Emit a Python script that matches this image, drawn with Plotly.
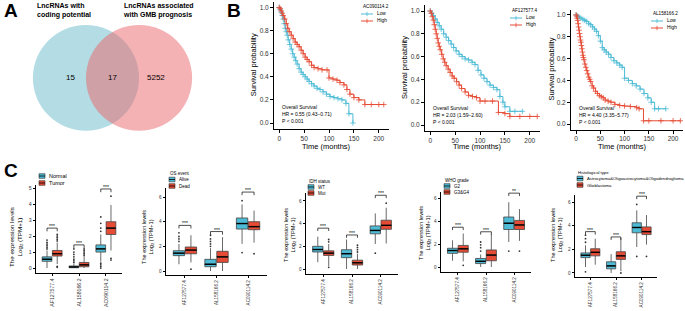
import plotly.graph_objects as go

W, H = 685, 311
FONT = "Liberation Sans, Arial, sans-serif"
BLUE = "#4DBBD5"
RED = "#E64B35"

# ---------------- Panel A: Venn ----------------
venn_titles = ["LncRNAs with<br>coding potential", "LncRNAs associated<br>with GMB prognosis"]
venn_counts = [15, 17, 5252]

# ---------------- Panel B: Kaplan-Meier ----------------
km_genes = ["AC090114.2", "AF127577.4", "AL158166.2"]
km_hr = ["HR = 0.55 (0.43\u22120.71)", "HR = 2.03 (1.59\u22122.60)", "HR = 4.40 (3.35\u22125.77)"]
km_p = ["P < 0.001", "P < 0.001", "P < 0.001"]

km1_low_t = [0, 2, 4, 6, 8, 10, 12, 14, 16, 18, 21, 24, 27, 30, 33, 36, 40, 44, 48, 52, 56, 60, 65, 70, 76, 82, 88, 95, 102, 110, 118, 126, 134, 140, 148]
km1_low_s = [1.0, 0.98, 0.96, 0.93, 0.90, 0.86, 0.82, 0.79, 0.76, 0.72, 0.68, 0.64, 0.60, 0.57, 0.54, 0.51, 0.47, 0.44, 0.42, 0.40, 0.38, 0.36, 0.34, 0.32, 0.30, 0.29, 0.27, 0.25, 0.23, 0.22, 0.21, 0.20, 0.17, 0.08, 0.0]
km1_high_t = [0, 2, 4, 6, 8, 11, 14, 17, 20, 24, 28, 32, 36, 40, 44, 48, 52, 56, 60, 65, 70, 78, 86, 96, 100, 108, 116, 122, 130, 136, 142, 150, 160, 172, 185, 200, 210]
km1_high_s = [1.0, 0.99, 0.97, 0.95, 0.93, 0.90, 0.86, 0.82, 0.79, 0.76, 0.73, 0.70, 0.68, 0.66, 0.63, 0.60, 0.57, 0.55, 0.53, 0.50, 0.48, 0.47, 0.46, 0.46, 0.39, 0.38, 0.37, 0.35, 0.33, 0.29, 0.25, 0.22, 0.20, 0.16, 0.16, 0.16, 0.16]

km2_low_t = [0, 3, 6, 10, 14, 18, 22, 27, 32, 37, 42, 47, 52, 58, 64, 70, 77, 84, 90, 96, 102, 108, 114, 120, 127, 134, 140, 146, 150, 160, 170, 185]
km2_low_s = [1.0, 0.98, 0.96, 0.93, 0.90, 0.87, 0.84, 0.80, 0.77, 0.74, 0.71, 0.68, 0.65, 0.62, 0.60, 0.58, 0.57, 0.55, 0.53, 0.48, 0.44, 0.41, 0.38, 0.35, 0.33, 0.31, 0.25, 0.20, 0.16, 0.12, 0.12, 0.12]
km2_high_t = [0, 2, 4, 6, 8, 10, 12, 14, 16, 18, 20, 23, 26, 29, 32, 36, 40, 44, 48, 53, 58, 63, 70, 77, 85, 93, 100, 110, 125, 137, 150, 160, 180, 200, 215]
km2_high_s = [1.0, 0.98, 0.95, 0.92, 0.88, 0.84, 0.80, 0.76, 0.72, 0.69, 0.66, 0.62, 0.58, 0.55, 0.52, 0.49, 0.46, 0.43, 0.41, 0.38, 0.35, 0.32, 0.29, 0.26, 0.25, 0.24, 0.21, 0.21, 0.21, 0.11, 0.10, 0.075, 0.075, 0.075, 0.075]

km3_low_t = [0, 3, 6, 10, 14, 18, 22, 26, 30, 34, 38, 42, 46, 50, 54, 58, 62, 67, 72, 78, 84, 90, 95, 100, 108, 116, 124, 132, 140, 148, 155, 162, 170, 185]
km3_low_s = [1.0, 0.99, 0.98, 0.97, 0.96, 0.95, 0.94, 0.92, 0.91, 0.89, 0.87, 0.85, 0.81, 0.76, 0.70, 0.68, 0.66, 0.64, 0.61, 0.58, 0.56, 0.54, 0.52, 0.42, 0.40, 0.37, 0.35, 0.32, 0.28, 0.24, 0.20, 0.14, 0.14, 0.14]
km3_high_t = [0, 1, 2, 3, 4, 5, 6, 7, 8, 9, 10, 11, 12, 13, 14, 15, 16, 18, 20, 22, 24, 26, 28, 30, 33, 36, 40, 44, 48, 52, 56, 60, 66, 72, 80, 90, 100, 112, 125, 130, 139, 150, 175, 200, 215]
km3_high_s = [1.0, 0.99, 0.97, 0.95, 0.92, 0.89, 0.86, 0.83, 0.80, 0.77, 0.75, 0.72, 0.69, 0.66, 0.63, 0.61, 0.59, 0.55, 0.52, 0.49, 0.46, 0.43, 0.41, 0.39, 0.35, 0.33, 0.30, 0.28, 0.26, 0.25, 0.24, 0.22, 0.21, 0.20, 0.18, 0.17, 0.165, 0.16, 0.15, 0.14, 0.03, 0.03, 0.03, 0.03, 0.03]

# ---------------- Panel C: boxplots ----------------
genes = ["AF127577.4", "AL158166.2", "AC090114.2"]
# stats per gene: (lower whisker, q1, median, q3, upper whisker)
c1_groups = ["Normal", "Tumor"]
c1_a = [(0.00, 0.42, 0.55, 0.70, 1.10), (0.00, 0.02, 0.07, 0.13, 0.28), (0.40, 1.00, 1.20, 1.45, 2.10)]
c1_b = [(0.25, 0.75, 0.90, 1.10, 1.60), (0.00, 0.08, 0.20, 0.35, 0.75), (1.10, 2.10, 2.50, 2.90, 3.95)]
c1_a_out = [[1.2, 1.3, 1.4, 1.5, 1.6, 1.75], [0.35, 0.45, 0.55, 0.7, 0.85, 1.0, 1.2], [0.0, 0.1, 0.2, 0.3, 2.3, 2.5, 2.8, 3.2]]
c1_b_out = [[0.05, 0.1, 1.7, 1.8, 1.9, 2.0, 2.1], [0.8, 0.9, 1.0, 1.1, 1.2], [0.5, 0.6, 4.5]]
c1_sig = ["***", "***", "***"]

c2_title = "OS event"
c2_groups = ["Alive", "Dead"]
c2_a = [(0.55, 1.25, 1.45, 1.65, 2.20), (0.00, 0.35, 0.55, 0.95, 1.85), (2.20, 3.40, 3.85, 4.30, 5.40)]
c2_b = [(0.70, 1.40, 1.70, 1.95, 2.90), (0.00, 0.70, 1.15, 1.60, 2.75), (2.30, 3.35, 3.60, 4.00, 4.90)]
c2_a_out = [[2.4, 2.6, 2.8, 3.1], [2.0, 2.2, 2.4, 2.6, 2.9], [1.5, 5.7]]
c2_b_out = [[0.15], [], [1.4]]
c2_sig = ["***", "***", "***"]

c3_title = "IDH status"
c3_groups = ["WT", "Mut"]
c3_a = [(0.60, 1.50, 1.72, 2.00, 2.85), (0.00, 1.00, 1.35, 1.70, 2.60), (2.20, 3.10, 3.40, 3.80, 4.90)]
c3_b = [(0.25, 1.20, 1.40, 1.60, 2.20), (0.00, 0.35, 0.55, 0.78, 1.35), (2.25, 3.50, 3.85, 4.30, 5.40)]
c3_a_out = [[], [], [1.4]]
c3_b_out = [[0.15, 2.4, 2.6], [1.5, 1.7, 1.9, 2.1], [5.8]]
c3_sig = ["***", "***", "***"]

c4_title = "WHO grade"
c4_groups = ["G2", "G3&G4"]
c4_a = [(0.55, 1.20, 1.45, 1.65, 2.35), (0.00, 0.30, 0.50, 0.75, 1.10), (2.20, 3.30, 3.85, 4.40, 5.70)]
c4_b = [(0.50, 1.30, 1.60, 1.90, 2.95), (0.00, 0.55, 1.05, 1.50, 2.90), (2.30, 3.30, 3.70, 4.10, 5.10)]
c4_a_out = [[], [1.4, 1.7, 1.95, 2.2], [1.4]]
c4_b_out = [[0.15], [], [1.4]]
c4_sig = ["***", "***", "**"]

c5_title = "Histological type"
c5_groups = ["Astrocytoma&Oligoastrocytoma&Oligodendroglioma", "Glioblastoma"]
c5_a = [(0.50, 1.30, 1.50, 1.70, 2.35), (0.00, 0.35, 0.60, 0.95, 1.60), (2.20, 3.40, 3.85, 4.25, 5.30)]
c5_b = [(0.70, 1.45, 1.75, 2.05, 2.90), (0.15, 1.15, 1.45, 1.80, 2.95), (2.40, 3.25, 3.50, 3.90, 4.90)]
c5_a_out = [[0.1, 2.6, 2.9, 3.2], [], [1.4, 5.8]]
c5_b_out = [[], [0.0], [1.4]]
c5_sig = ["***", "***", "***"]


def px(x):
    return x / W


def py(y):
    return 1 - y / H


fig = go.Figure()
annotations = []
shapes = []
layout = dict(width=W, height=H, margin=dict(l=0, r=0, t=0, b=0),
              plot_bgcolor="white", paper_bgcolor="white", showlegend=False,
              font=dict(family=FONT, color="black"))


def ann(text, x, y, size, xanchor="left", yanchor="middle", color="black", bold=False, angle=0, xref="paper", yref="paper", align="left"):
    annotations.append(dict(text=("<b>%s</b>" % text) if bold else text, x=x, y=y, xref=xref, yref=yref,
                            xanchor=xanchor, yanchor=yanchor, showarrow=False, textangle=angle, align=align,
                            font=dict(size=size, color=color, family=FONT)))


# ---- Panel letters
ann("A", px(2), py(10), 19, bold=True)
ann("B", px(225), py(10), 19, bold=True)
ann("C", px(2), py(170), 19, bold=True)

# ---- Venn (axis x/y)
layout["xaxis"] = dict(domain=[0, px(225)], range=[-2.12, 2.12], visible=False)
layout["yaxis"] = dict(domain=[0, 1], range=[-4.40, 1.47], visible=False)
fig.add_trace(go.Scatter(x=[0], y=[0], mode="markers", marker=dict(opacity=0), xaxis="x", yaxis="y", hoverinfo="skip"))
venn_cx = [-0.5, 0.5]
venn_fill = ["rgba(105,185,201,0.5)", "rgba(233,101,105,0.5)"]
for cx, fc in zip(venn_cx, venn_fill):
    shapes.append(dict(type="circle", xref="x", yref="y", x0=cx - 1, x1=cx + 1, y0=-1, y1=1,
                       fillcolor=fc, line=dict(width=0)))
for xpos, cnt in zip([-0.80, 0.0, 0.82], venn_counts):
    ann(str(cnt), xpos, 0, 8, xanchor="center", xref="x", yref="y")
ann(venn_titles[0], px(35), py(11), 7, bold=True)
ann(venn_titles[1], px(121), py(11), 7, bold=True)

# ---- KM panels
km_data = [(km1_low_t, km1_low_s, km1_high_t, km1_high_s),
           (km2_low_t, km2_low_s, km2_high_t, km2_high_s),
           (km3_low_t, km3_low_s, km3_high_t, km3_high_s)]
km_dom = [(274, 389, 1.7, 128.8), (425, 540, 5.3, 130.7), (571, 683, 9.5, 129.5)]
km_ytitle_x = [253, 404, 551]
km_leg = [(361, 7), (510, 11), (651, 14)]
km_txt_y = [107, 108, 108]
for i in range(3):
    n = i + 2
    x0, x1, y0, y1 = km_dom[i]
    common = dict(showline=True, linecolor="black", linewidth=1, ticks="outside", ticklen=3, tickwidth=1,
                  tickcolor="black", showgrid=False, zeroline=False, tickfont=dict(size=6.5, color="#333", family=FONT))
    layout["xaxis%d" % n] = dict(domain=[px(x0), px(x1)], range=[-10.5, 220.5], anchor="y%d" % n,
                                 tickvals=[0, 50, 100, 150, 200], **common)
    layout["yaxis%d" % n] = dict(domain=[py(y1), py(y0)], range=[-0.05, 1.05], anchor="x%d" % n,
                                 tickvals=[0, 0.2, 0.4, 0.6, 0.8, 1.0], tickformat=".1f", **common)
    lt, ls, ht, hs = km_data[i]
    for t, s, c in [(lt, ls, BLUE), (ht, hs, RED)]:
        fig.add_trace(go.Scatter(x=t, y=s, mode="lines+markers", line=dict(shape="hv", color=c, width=1),
                                 marker=dict(symbol="cross-thin", size=4, line=dict(width=0.8, color=c)),
                                 xaxis="x%d" % n, yaxis="y%d" % n, hoverinfo="skip"))
    # titles
    ann("Survival probability", px(km_ytitle_x[i]), py((y0 + y1) / 2), 7.5, xanchor="center", angle=-90)
    ann("Time (months)", px((x0 + x1) / 2 - 5), py(146), 7.5, xanchor="center")
    # stats text
    ty = km_txt_y[i]
    ann("Overall Survival", px(x0 + 6), py(ty), 5)
    ann(km_hr[i], px(x0 + 6), py(ty + 7), 5)
    ann(km_p[i], px(x0 + 6), py(ty + 14), 5)
    # legend
    lx, ly = km_leg[i]
    ann(km_genes[i], px(lx), py(ly), 4.6)
    for j, (lab, c) in enumerate([("Low", BLUE), ("High", RED)]):
        yy = ly + 7 * (j + 1)
        shapes.append(dict(type="line", xref="paper", yref="paper", x0=px(lx), x1=px(lx + 12), y0=py(yy), y1=py(yy),
                           line=dict(color=c, width=1)))
        shapes.append(dict(type="line", xref="paper", yref="paper", x0=px(lx + 6), x1=px(lx + 6), y0=py(yy - 2.2), y1=py(yy + 2.2),
                           line=dict(color=c, width=0.8)))
        ann(lab, px(lx + 14), py(yy), 4.8)

# ---- Box panels
panels = [
    dict(groups=c1_groups, title=None, a=c1_a, b=c1_b, ao=c1_a_out, bo=c1_b_out, sig=c1_sig,
         dom=(36, 122, 185, 273), yr=[-0.31, 5.2], ticks=[0, 1, 2, 3, 4, 5], br=[2.5, 1.45, 4.95], d=0.2,
         tf=5.2, yt=(16, 237, 6.2), leg=(39, 176, 7, 5.5)),
    dict(groups=c2_groups, title=c2_title, a=c2_a, b=c2_b, ao=c2_a_out, bo=c2_b_out, sig=c2_sig,
         dom=(166, 267, 188, 275), yr=[-0.32, 6.73], ticks=[0, 2, 4, 6], br=[3.7, 3.2, 6.4], d=0.25,
         tf=4.6, yt=(148, 237, 5.6), leg=(169, 173, 6.5, 4.5)),
    dict(groups=c3_groups, title=c3_title, a=c3_a, b=c3_b, ao=c3_a_out, bo=c3_b_out, sig=c3_sig,
         dom=(306, 398, 193, 274), yr=[-0.44, 6.7], ticks=[0, 2, 4, 6], br=[3.6, 3.0, 6.5], d=0.25,
         tf=4.6, yt=(290, 235, 5.6), leg=(308, 181, 6, 4.5)),
    dict(groups=c4_groups, title=c4_title, a=c4_a, b=c4_b, ao=c4_a_out, bo=c4_b_out, sig=c4_sig,
         dom=(441, 531, 192, 272), yr=[-0.44, 6.6], ticks=[0, 2, 4, 6], br=[3.5, 3.1, 6.5], d=0.25,
         tf=4.6, yt=(425, 233, 5.6), leg=(444, 180, 6, 4.5)),
    dict(groups=c5_groups, title=c5_title, a=c5_a, b=c5_b, ao=c5_a_out, bo=c5_b_out, sig=c5_sig,
         dom=(575, 657, 195, 277), yr=[-0.34, 6.6], ticks=[0, 2, 4, 6], br=[3.5, 3.05, 6.5], d=0.25,
         tf=4.6, yt=(557, 235, 5.6), leg=(577, 172, 6.5, 4.2)),
]
BW = 0.36
OFF = [-0.19, 0.19]
for k, p in enumerate(panels):
    n = k + 5
    xa, ya = "x%d" % n, "y%d" % n
    x0, x1, y0, y1 = p["dom"]
    common = dict(showline=True, linecolor="black", linewidth=0.8, ticks="outside", ticklen=2.5, tickwidth=0.8,
                  tickcolor="black", showgrid=False, zeroline=False,
                  tickfont=dict(size=p["tf"], color="#333", family=FONT))
    layout["xaxis%d" % n] = dict(domain=[px(x0), px(x1)], range=[-0.6, 2.6], anchor=ya,
                                 tickvals=[0, 1, 2], ticktext=genes, tickangle=-90, **common)
    layout["yaxis%d" % n] = dict(domain=[py(y1), py(y0)], range=p["yr"], anchor=xa,
                                 tickvals=p["ticks"], **common)
    for gi, (stats, outs, col) in enumerate([(p["a"], p["ao"], BLUE), (p["b"], p["bo"], RED)]):
        pos = [g + OFF[gi] for g in range(3)]
        fig.add_trace(go.Box(x=pos, lowerfence=[s[0] for s in stats], q1=[s[1] for s in stats],
                             median=[s[2] for s in stats], q3=[s[3] for s in stats],
                             upperfence=[s[4] for s in stats], width=BW, whiskerwidth=0,
                             fillcolor=col, line=dict(color="#444", width=0.8), boxpoints=False,
                             xaxis=xa, yaxis=ya, hoverinfo="skip"))
        mx, my = [], []
        for ps, s in zip(pos, stats):
            mx += [ps - BW / 2, ps + BW / 2, None]
            my += [s[2], s[2], None]
        fig.add_trace(go.Scatter(x=mx, y=my, mode="lines", line=dict(color="black", width=1.4),
                                 xaxis=xa, yaxis=ya, hoverinfo="skip"))
        ox, oy = [], []
        for ps, o in zip(pos, outs):
            ox += [ps] * len(o)
            oy += o
        fig.add_trace(go.Scatter(x=ox, y=oy, mode="markers", marker=dict(size=1.8, color="#333"),
                                 xaxis=xa, yaxis=ya, hoverinfo="skip"))
    # significance brackets
    for g in range(3):
        yb = p["br"][g]
        xl, xr = g + OFF[0], g + OFF[1]
        shapes.append(dict(type="path", xref=xa, yref=ya,
                           path="M %f,%f L %f,%f L %f,%f L %f,%f" % (xl, yb - p["d"], xl, yb, xr, yb, xr, yb - p["d"]),
                           line=dict(color="black", width=0.7)))
        annotations.append(dict(text=p["sig"][g], x=g, y=yb, xref=xa, yref=ya, xanchor="center", yanchor="bottom",
                                yshift=-3, showarrow=False, font=dict(size=5, family=FONT)))
    # y title
    tx, tyc, tsz = p["yt"]
    ann("The expression levels<br>Log<sub>2</sub> (TPM+1)", px(tx), py(tyc), tsz, xanchor="center", angle=-90, align="center")
    # legend
    lx, ly, step, lf = p["leg"]
    if p["title"]:
        ann(p["title"], px(lx - 1), py(ly), lf)
        ly += step
    for gi, (lab, col) in enumerate(zip(p["groups"], [BLUE, RED])):
        yy = ly + step * gi
        shapes.append(dict(type="rect", xref="paper", yref="paper", x0=px(lx), x1=px(lx + 6),
                           y0=py(yy + 2.3), y1=py(yy - 2.3), fillcolor=col, line=dict(color="#333", width=0.6)))
        shapes.append(dict(type="line", xref="paper", yref="paper", x0=px(lx), x1=px(lx + 6),
                           y0=py(yy), y1=py(yy), line=dict(color="black", width=0.8)))
        ann(lab, px(lx + 8), py(yy), lf)

layout["annotations"] = annotations
layout["shapes"] = shapes
fig.update_layout(**layout)
fig.write_html("out.html", config={"displayModeBar": False},
               post_script="document.body.style.margin='0';document.body.style.padding='0';")
